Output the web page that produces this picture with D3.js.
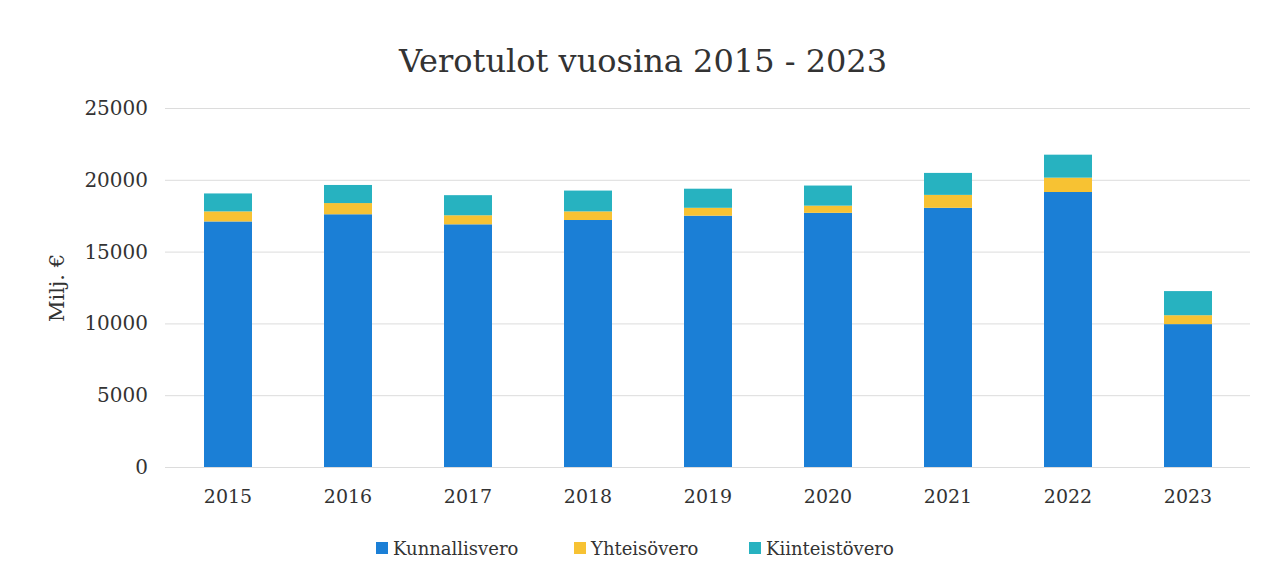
<!DOCTYPE html>
<html lang="fi">
    <head>
        <meta charset="utf-8">
        <title>Verotulot vuosina 2015 - 2023</title>
        <script type="text/javascript" src="https://cdn.jsdelivr.net/npm/d3@7"></script>
        <style type="text/css">
            body { margin: 0; background: #fff; }
            svg text { font-family: "DejaVu Serif", "Liberation Serif", serif; fill: #333; }
            .grid line { stroke: #dcdcdc; stroke-width: 1; }
            .grid path { display: none; }
            .axis path, .axis line { display: none; }
        </style>
    </head>
    <body>
        <div class="chart"></div>
        <script type="text/javascript">
            // data, milj. €
            var years = ["2015", "2016", "2017", "2018", "2019", "2020", "2021", "2022", "2023"];
            var kunnallisvero = [17100, 17600, 16900, 17200, 17500, 17700, 18050, 19150, 9950];
            var yhteisovero = [700, 780, 630, 600, 550, 500, 900, 1000, 620];
            var kiinteistovero = [1250, 1260, 1400, 1450, 1330, 1400, 1530, 1600, 1680];
            var seriesNames = ["Kunnallisvero", "Yhteisövero", "Kiinteistövero"];
            var yTicks = [0, 5000, 10000, 15000, 20000, 25000];

            var colors = ["#1b7fd6", "#f7c233", "#27b2c0"];

            var w = 1276;
            var h = 579;

            var svg = d3.select("div.chart")
                        .append("svg")
                        .attr("width", w)
                        .attr("height", h);

            // table for the stack
            var table = years.map(function(y, i) {
                return {year: y, k: kunnallisvero[i], y: yhteisovero[i], t: kiinteistovero[i]};
            });
            var stack = d3.stack().keys(["k", "y", "t"]);
            var layers = stack(table);

            var xScale = d3.scaleBand()
                           .domain(years)
                           .range([168, 1248])
                           .paddingInner(0.6)
                           .paddingOuter(0.3);

            var yScale = d3.scaleLinear()
                           .domain([0, 25000])
                           .range([467, 108]);

            // gridlines
            svg.append("g")
               .attr("class", "grid")
               .attr("transform", "translate(165,0)")
               .call(d3.axisLeft(yScale).tickValues(yTicks).tickSize(-1085).tickFormat(""));

            // bars
            svg.selectAll("g.layer")
               .data(layers)
               .enter()
               .append("g")
               .attr("class", "layer")
               .attr("fill", function(d, i) { return colors[i]; })
               .selectAll("rect")
               .data(function(d) { return d; })
               .enter()
               .append("rect")
               .attr("x", function(d) { return xScale(d.data.year); })
               .attr("y", function(d) { return yScale(d[1]); })
               .attr("width", xScale.bandwidth())
               .attr("height", function(d) { return yScale(d[0]) - yScale(d[1]); });

            // y axis
            var yAxis = svg.append("g")
               .attr("class", "axis")
               .attr("transform", "translate(158,0)")
               .call(d3.axisLeft(yScale).tickValues(yTicks).tickSize(0).tickPadding(10).tickFormat(d3.format("d")));
            yAxis.selectAll("text").attr("font-size", "20px").attr("font-family", null);

            // x axis
            var xAxis = svg.append("g")
               .attr("class", "axis")
               .attr("transform", "translate(0,467)")
               .call(d3.axisBottom(xScale).tickSize(0).tickPadding(23));
            xAxis.selectAll("text").attr("font-size", "19px").attr("font-family", null);

            // title
            svg.append("text")
               .attr("x", 643)
               .attr("y", 72)
               .attr("text-anchor", "middle")
               .attr("font-size", "32px")
               .text("Verotulot vuosina 2015 - 2023");

            // y label
            svg.append("text")
               .attr("transform", "translate(64,288) rotate(-90)")
               .attr("text-anchor", "middle")
               .attr("font-size", "21px")
               .text("Milj. €");

            // legend
            var legendX = [376, 574, 749];
            var legend = svg.selectAll("g.legend")
               .data(seriesNames)
               .enter()
               .append("g")
               .attr("class", "legend")
               .attr("transform", function(d, i) { return "translate(" + legendX[i] + ",548)"; });
            legend.append("rect")
               .attr("x", 0)
               .attr("y", -6)
               .attr("width", 12)
               .attr("height", 12)
               .attr("fill", function(d, i) { return colors[i]; });
            legend.append("text")
               .attr("x", 17)
               .attr("y", 7)
               .attr("font-size", "18px")
               .text(function(d) { return d; });
        </script>
    </body>
</html>
